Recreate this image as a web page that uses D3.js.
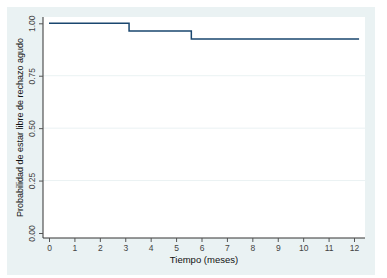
<!DOCTYPE html>
<html>
<head>
<meta charset="utf-8">
<script src="https://d3js.org/d3.v7.min.js"></script>
<style>
  body { margin: 0; background: #fff; }
  text { font-family: "Liberation Sans", Arial, sans-serif; }
</style>
</head>
<body>
<div id="chart"></div>
<script>
// Kaplan-Meier step data
var tiempo = [0, 3.15, 5.6, 12.2];
var supervivencia = [1.0, 0.963, 0.925, 0.925];
var yTicks = [0, 0.25, 0.5, 0.75, 1];
var xTicks = [0, 1, 2, 3, 4, 5, 6, 7, 8, 9, 10, 11, 12];

var W = 387, H = 278;
var svg = d3.select("#chart").append("svg")
    .attr("width", W)
    .attr("height", H);

// outer graph region
svg.append("rect")
    .attr("x", 7).attr("y", 7)
    .attr("width", 368).attr("height", 268)
    .attr("fill", "#eaf2f3");

// plot region
var plot = {left: 43, top: 17, right: 365, bottom: 238};
svg.append("rect")
    .attr("x", plot.left).attr("y", plot.top)
    .attr("width", plot.right - plot.left)
    .attr("height", plot.bottom - plot.top)
    .attr("fill", "#fff");

var x = d3.scaleLinear().domain([0, 12]).range([49, 354]);
var y = d3.scaleLinear().domain([0, 1]).range([233, 23.3]);

// gridlines
svg.selectAll(".grid")
  .data([0.25, 0.5, 0.75])
  .enter().append("line")
    .attr("x1", plot.left).attr("x2", plot.right)
    .attr("y1", function(d) { return y(d); })
    .attr("y2", function(d) { return y(d); })
    .attr("stroke", "#eaf2f3")
    .attr("stroke-width", 1);

// Y axis
var yAxis = svg.append("g")
  .attr("transform", "translate(" + plot.left + ",0)")
  .call(d3.axisLeft(y).tickValues(yTicks).tickSize(4).tickFormat(d3.format(".2f")));
yAxis.select(".domain").attr("d", "M0," + plot.top + "V" + plot.bottom).attr("stroke", "#333");
yAxis.selectAll(".tick line").attr("stroke", "#555");
yAxis.selectAll("text")
    .attr("transform", "rotate(-90)")
    .attr("x", 0).attr("y", -8)
    .attr("dy", 0)
    .style("text-anchor", "middle")
    .attr("fill", "#444")
    .style("font-size", "8.5px");

// X axis
var xAxis = svg.append("g")
  .attr("transform", "translate(0," + plot.bottom + ")")
  .call(d3.axisBottom(x).tickValues(xTicks).tickSize(4));
xAxis.select(".domain").attr("d", "M" + plot.left + ",0H" + plot.right).attr("stroke", "#333");
xAxis.selectAll(".tick line").attr("stroke", "#555");
xAxis.selectAll("text")
    .attr("y", 6.5)
    .attr("fill", "#444")
    .style("font-size", "8.5px");

// axis titles
svg.append("text")
    .attr("x", 204).attr("y", 263)
    .attr("text-anchor", "middle")
    .style("font-size", "9.5px")
    .attr("fill", "#111")
    .text("Tiempo (meses)");

svg.append("text")
    .attr("transform", "translate(23," + (plot.top + plot.bottom) / 2 + ")rotate(-90)")
    .attr("text-anchor", "middle")
    .style("font-size", "9px")
    .attr("fill", "#111")
    .text("Probabilidad de estar libre de rechazo agudo");

// survival step line
var pts = tiempo.map(function(t, i) { return [t, supervivencia[i]]; });
svg.append("path")
    .datum(pts)
    .attr("d", d3.line()
      .x(function(d) { return x(d[0]); })
      .y(function(d) { return y(d[1]); })
      .curve(d3.curveStepAfter))
    .attr("fill", "none")
    .attr("stroke", "#1a476f")
    .attr("stroke-width", 1.5);
</script>
</body>
</html>
